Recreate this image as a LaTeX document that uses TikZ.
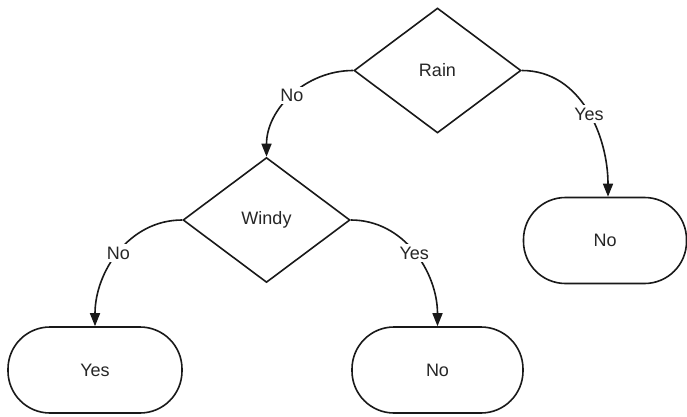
\documentclass[tikz,border=0pt]{standalone}
\usepackage{fontspec}
\setmainfont{Liberation Sans}
\usetikzlibrary{shapes.geometric,arrows.meta,calc}
\begin{document}
\begin{tikzpicture}[x=1pt,y=-1pt,
  every node/.style={font=\fontsize{18}{21}\selectfont, text=black!85},
  decision/.style={diamond, draw=black!90, line width=1.6pt, inner sep=0pt,
    minimum width=167pt, minimum height=125pt},
  leaf/.style={rectangle, draw=black!90, line width=1.6pt, rounded corners=42pt,
    minimum height=86pt, inner sep=0pt},
  conn/.style={draw=black!90, line width=1.6pt, -{Triangle[length=13pt,width=10pt]}},
  lab/.style={fill=white, inner sep=2.5pt}]
\fill[white] (0,0) rectangle (687,417);
\useasboundingbox (0,0) rectangle (687,417);
\node[decision] (rain) at (437.5,70.5) {Rain};
\node[decision] (windy) at (266.5,220) {Windy};
\node[leaf, minimum width=163pt] (nr) at (605,240.5) {No};
\node[leaf, minimum width=174pt] (yl) at (95,370) {Yes};
\node[leaf, minimum width=171pt] (nm) at (437.5,370) {No};
\draw[conn] (rain.west) to[out=180,in=90] node[lab] {No} (windy.north);
\draw[conn] (rain.east) to[out=0,in=90] node[lab, pos=0.52] {Yes} ($(nr.north)+(3,0)$);
\draw[conn] (windy.west) to[out=180,in=90] node[lab] {No} (yl.north);
\draw[conn] (windy.east) to[out=0,in=90] node[lab] {Yes} (nm.north);
\end{tikzpicture}
\end{document}
